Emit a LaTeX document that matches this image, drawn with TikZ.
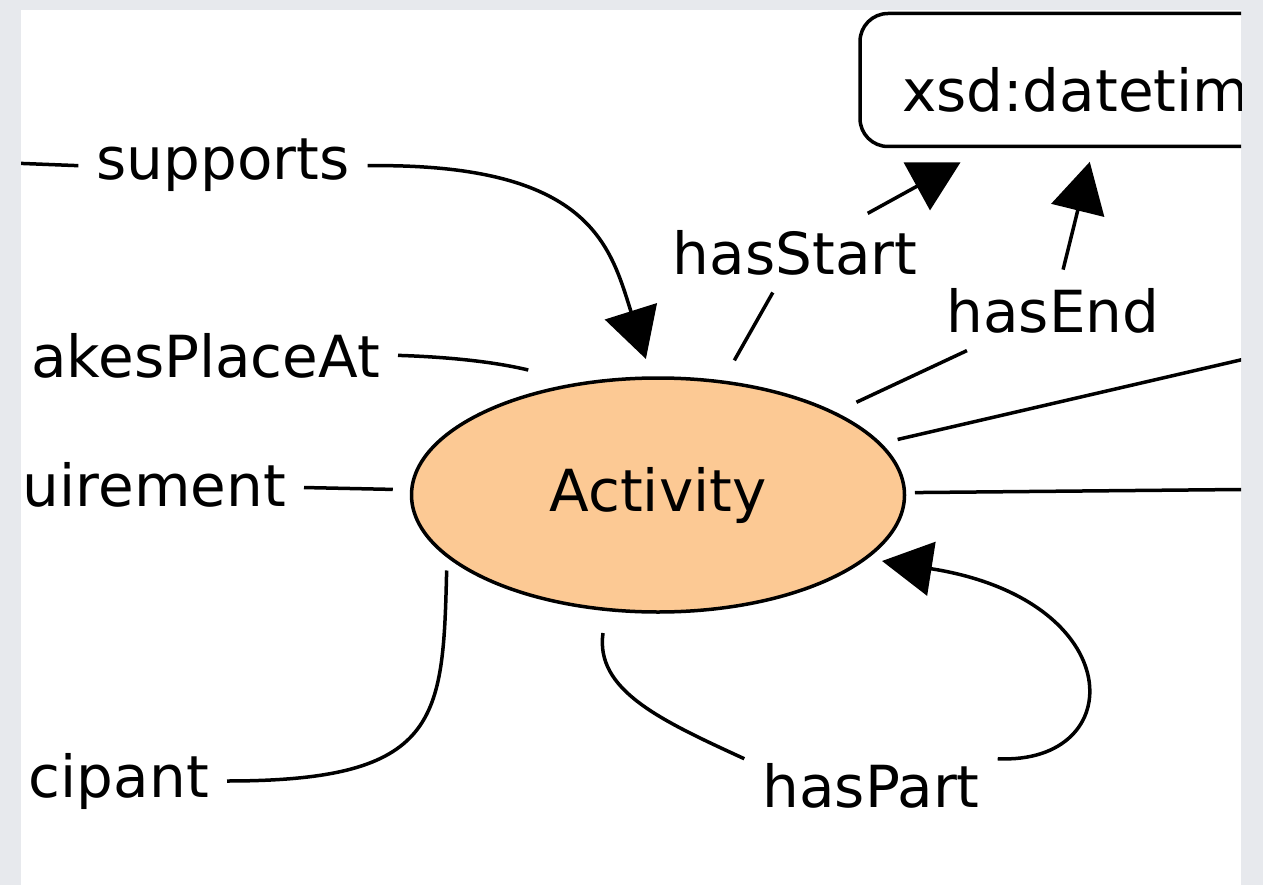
\documentclass[tikz,border=0pt]{standalone}
\usepackage{fontspec}
\setmainfont{DejaVu Sans}
\usetikzlibrary{arrows.meta,shapes.geometric,calc}
\definecolor{peach}{RGB}{252,201,148}
\definecolor{framegray}{RGB}{231,233,237}

\begin{document}
\begin{tikzpicture}[
  x=1pt,y=-1pt,
  font=\fontsize{58}{66}\selectfont,
  lbl/.style={inner xsep=18pt,inner ysep=4pt},
  cls/.style={ellipse,draw,line width=3.5pt,fill=peach,outer sep=0pt,
    minimum width=493pt,minimum height=234pt},
  dtype/.style={draw,line width=3.5pt,rounded corners=28pt,outer sep=0pt,
    minimum width=500pt,minimum height=133pt,text width=416pt,align=left,
    inner xsep=42pt,text height=64pt,text depth=0pt},
  rel/.style={line width=3.5pt},
  relarrow/.style={rel,-{Triangle[length=50pt,width=54pt]}}
]
\useasboundingbox (0,0) rectangle (1263,885);
\fill[framegray] (0,0) rectangle (1263,885);
\fill[white] (21,10) rectangle (1241,885);

\begin{scope}
\clip (21,10) rectangle (1241,885);

% ---------- class and datatype
\node[cls] (act) at (658,495) {Activity};
\node[dtype] (xsd) at (1110,80) {xsd:datetim};

% ---------- property labels
\node[lbl,anchor=base] (supports) at (223,180) {supports};
\node[lbl,anchor=base] (hasStart) at (795,275) {hasStart};
\node[lbl,anchor=base] (hasEnd) at (1053,332) {hasEnd};
\node[lbl,anchor=base] (hasPart) at (871,807) {hasPart};
\node[lbl,anchor=base east] (takesPlaceAt) at (398,377) {akesPlaceAt};
\node[lbl,anchor=base east] (requirement) at (304,506) {uirement};
\node[lbl,anchor=base east] (participant) at (227,797) {cipant};

% ends that run out of the frame
\coordinate (offSupports) at (-40,161);
\coordinate (offRight1) at (1400,323);
\coordinate (offRight2) at (1400,488);

% ---------- connectors
\draw[rel] (supports.west) -- (offSupports);
\draw[relarrow,shorten >=20pt] (supports.east) .. controls (590,163) and (610,245) .. (act.93);
\draw[rel] (takesPlaceAt.east) .. controls (450,357) and (495,362) .. ($(act.136)+(-21,-20)$);
\draw[rel,shorten >=19pt] (requirement) -- (act);
\draw[rel,shorten >=15pt] (participant.east) .. controls (440,781) and (443,720) .. (act.196);

\draw[rel] ($(hasStart)!45pt!(act)$) -- ($(hasStart)!123pt!(act)$);
\draw[relarrow] ($(hasStart)!83pt!(xsd)$) -- ($(hasStart)!189pt!(xsd)$);
\draw[rel] ($(hasEnd)!95pt!(act)$) -- ($(hasEnd)!217pt!(act)$);
\draw[relarrow] ($(hasEnd)!42pt!(xsd)$) -- ($(hasEnd)!153pt!(xsd)$);

\draw[rel] ($(act)!246pt!(offRight1)$) -- (offRight1);
\draw[rel] ($(act)!257pt!(offRight2)$) -- (offRight2);

\draw[rel] ($(act.south)+(-55,21)$) .. controls (595,690) and (660,720) .. (hasPart.north west);
\draw[relarrow,shorten >=17pt] (hasPart.north east) .. controls (1130,765) and (1130,600) .. (act.343);
\end{scope}
\end{tikzpicture}
\end{document}
